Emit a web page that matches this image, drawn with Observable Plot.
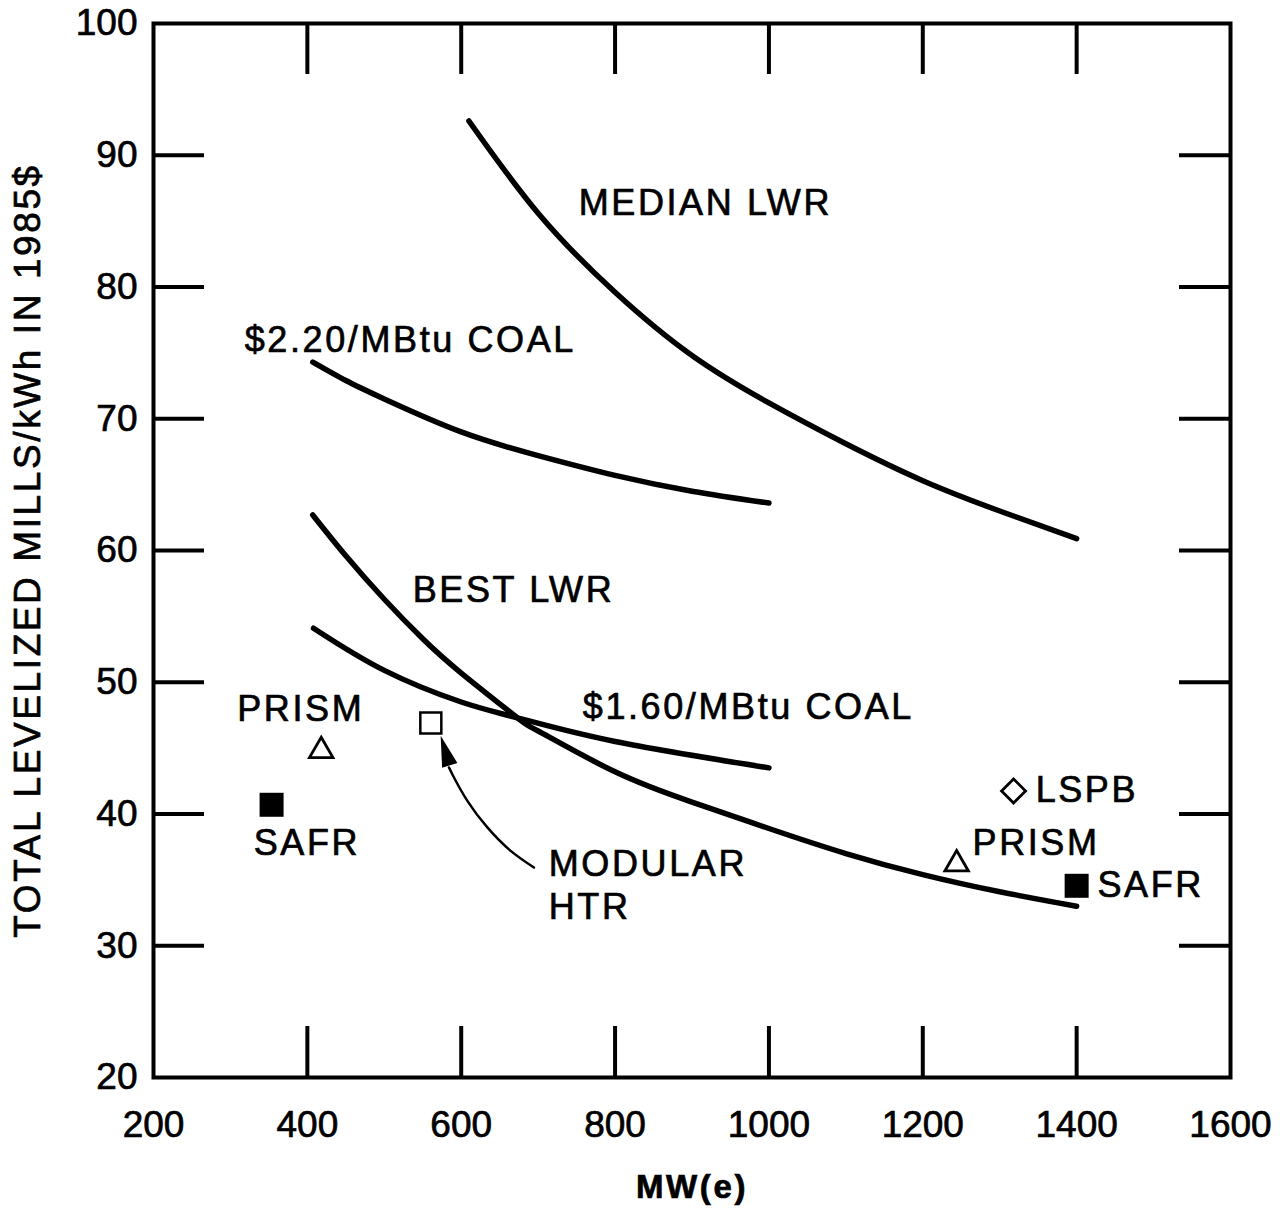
<!DOCTYPE html>
<html><head><meta charset="utf-8">
<script src="https://cdn.jsdelivr.net/npm/d3@7"></script>
<script src="https://cdn.jsdelivr.net/npm/@observablehq/plot@0.6"></script>
<style>
html,body{margin:0;padding:0;background:#fff;}
#chart svg g[aria-label="text"] text{letter-spacing:2.6px;}
#chart svg text{stroke:#000;stroke-width:0.7px;}
</style></head><body><div id="chart"></div>
<script>
// ---- data (MW(e) vs total levelized mills/kWh, 1985$) ----
const medianLwrX = [610, 700, 800, 900, 1000, 1100, 1200, 1300, 1400];
const medianLwrY = [92.6, 85.6, 79.6, 74.8, 71.2, 68.1, 65.3, 63.0, 60.9];
const coal220X = [407, 450, 500, 600, 700, 800, 900, 1000];
const coal220Y = [74.3, 72.9, 71.5, 69.0, 67.2, 65.7, 64.5, 63.6];
const bestLwrX = [407, 450, 500, 550, 600, 673, 700, 800, 900, 1000, 1100, 1200, 1300, 1400];
const bestLwrY = [62.7, 59.6, 56.3, 53.3, 50.7, 47.3, 46.3, 43.2, 40.9, 38.9, 37.0, 35.4, 34.1, 33.0];
const coal160X = [408, 500, 600, 673, 800, 1000];
const coal160Y = [54.1, 50.9, 48.5, 47.3, 45.5, 43.5];

const prismX = [418, 1244];   const prismY = [45.05, 36.45];
const safrX = [353.5, 1400];  const safrY = [40.7, 34.55];
const htrX = [560.5];         const htrY = [46.9];
const lspbX = [1318];         const lspbY = [41.75];

const arrowX = [694.6, 664.3, 634, 608, 590.6, 584.1];
const arrowY = [35.94, 37.2, 38.98, 41.0, 42.77, 43.53];
const arrowTipX = [573.3];    const arrowTipY = [45.94];

const startLabels = ["MEDIAN LWR", "$2.20/MBtu COAL", "BEST LWR", "$1.60/MBtu COAL", "MODULAR", "HTR", "LSPB", "PRISM", "SAFR"];
const startLabelX = [752.7, 318.6, 537, 758, 713.8, 713.8, 1346.7, 1264.7, 1427];
const startLabelY = [86.33, 75.93, 56.95, 48.06, 36.2, 32.88, 41.76, 37.8, 34.6];
const midLabels = ["PRISM", "SAFR"];
const midLabelX = [391.4, 399.4];
const midLabelY = [47.9, 37.74];

const xTicks = [200, 400, 600, 800, 1000, 1200, 1400, 1600];
const yTicks = [20, 30, 40, 50, 60, 70, 80, 90, 100];
const xInner = [400, 600, 800, 1000, 1200, 1400];
const yInner = [30, 40, 50, 60, 70, 80, 90];
const xTitle = "MW(e)";
const yTitle = "TOTAL LEVELIZED MILLS/kWh IN 1985$";

// ---- build ----
const toPts = (xs, ys) => xs.map((x, i) => ({x, y: ys[i]}));
const curves = [
  toPts(medianLwrX, medianLwrY), toPts(coal220X, coal220Y),
  toPts(bestLwrX, bestLwrY), toPts(coal160X, coal160Y)
];

const sym = (pts) => ({draw(ctx) { ctx.moveTo(pts[0][0], pts[0][1]); for (const p of pts.slice(1)) ctx.lineTo(p[0], p[1]); ctx.closePath(); }});
const filledSquare = sym([[-12,-12],[12,-12],[12,12],[-12,12]]);
const openSquare = sym([[-10.5,-10.5],[10.5,-10.5],[10.5,10.5],[-10.5,10.5]]);
const openTriangle = sym([[0,-10.2],[11.75,10.2],[-11.75,10.2]]);
const openDiamond = sym([[0,-12],[12,0],[0,12],[-12,0]]);
const arrowHead = sym([[0,0],[8,31],[-8,31]]);

const W = 1284, H = 1211, mL = 153, mR = 54, mT = 23, mB = 134;
const FW = W - mL - mR, FH = H - mT - mB;
const TICK = 51;
const font = "'Liberation Sans', Arial, Helvetica, sans-serif";

const chart = Plot.plot({
  width: W, height: H,
  marginLeft: mL, marginRight: mR, marginTop: mT, marginBottom: mB,
  style: {fontFamily: font, background: "#fff", color: "#000"},
  x: {domain: [200, 1600]},
  y: {domain: [20, 100]},
  marks: [
    Plot.ruleX(xInner, {x: d => d, insetTop: FH - TICK, stroke: "#000", strokeWidth: 4}),
    Plot.ruleX(xInner, {x: d => d, insetBottom: FH - TICK, stroke: "#000", strokeWidth: 4}),
    Plot.ruleY(yInner, {y: d => d, insetRight: FW - TICK, stroke: "#000", strokeWidth: 4}),
    Plot.ruleY(yInner, {y: d => d, insetLeft: FW - TICK, stroke: "#000", strokeWidth: 4}),
    Plot.frame({stroke: "#000", strokeWidth: 4}),
    Plot.axisX(xTicks, {tickSize: 0, tickPadding: 33, fontSize: 37, label: null, tickFormat: d => String(d)}),
    Plot.axisY(yTicks, {tickSize: 0, tickPadding: 16, fontSize: 37, label: null, tickFormat: d => String(d)}),
    ...curves.map(c => Plot.line(c, {x: "x", y: "y", curve: "natural", stroke: "#000", strokeWidth: 5.5, strokeLinecap: "round"})),
    Plot.line(toPts(arrowX, arrowY), {x: "x", y: "y", curve: "natural", stroke: "#000", strokeWidth: 2.5}),
    Plot.dot(toPts(arrowTipX, arrowTipY), {x: "x", y: "y", symbol: arrowHead, fill: "#000", stroke: "none", rotate: -17, r: 5}),
    Plot.dot(toPts(safrX, safrY), {x: "x", y: "y", symbol: filledSquare, fill: "#000", stroke: "none", r: 5}),
    Plot.dot(toPts(htrX, htrY), {x: "x", y: "y", symbol: openSquare, fill: "#fff", stroke: "#000", strokeWidth: 2.5, r: 5}),
    Plot.dot(toPts(prismX, prismY), {x: "x", y: "y", symbol: openTriangle, fill: "#fff", stroke: "#000", strokeWidth: 2.8, r: 5}),
    Plot.dot(toPts(lspbX, lspbY), {x: "x", y: "y", symbol: openDiamond, fill: "#fff", stroke: "#000", strokeWidth: 2.8, r: 5}),
    Plot.text(startLabels, {x: (d, i) => startLabelX[i], y: (d, i) => startLabelY[i], text: d => d, textAnchor: "start", fontSize: 36, fill: "#000"}),
    Plot.text(midLabels, {x: (d, i) => midLabelX[i], y: (d, i) => midLabelY[i], text: d => d, textAnchor: "middle", fontSize: 36, fill: "#000"}),
    Plot.text([yTitle], {frameAnchor: "left", textAnchor: "middle", rotate: -90, dx: -125, fontSize: 37, fill: "#000"}),
    Plot.text([xTitle], {frameAnchor: "bottom", textAnchor: "middle", dy: 120, fontSize: 33, fontWeight: "bold", fill: "#000"})
  ]
});
document.getElementById("chart").appendChild(chart);
</script></body></html>
